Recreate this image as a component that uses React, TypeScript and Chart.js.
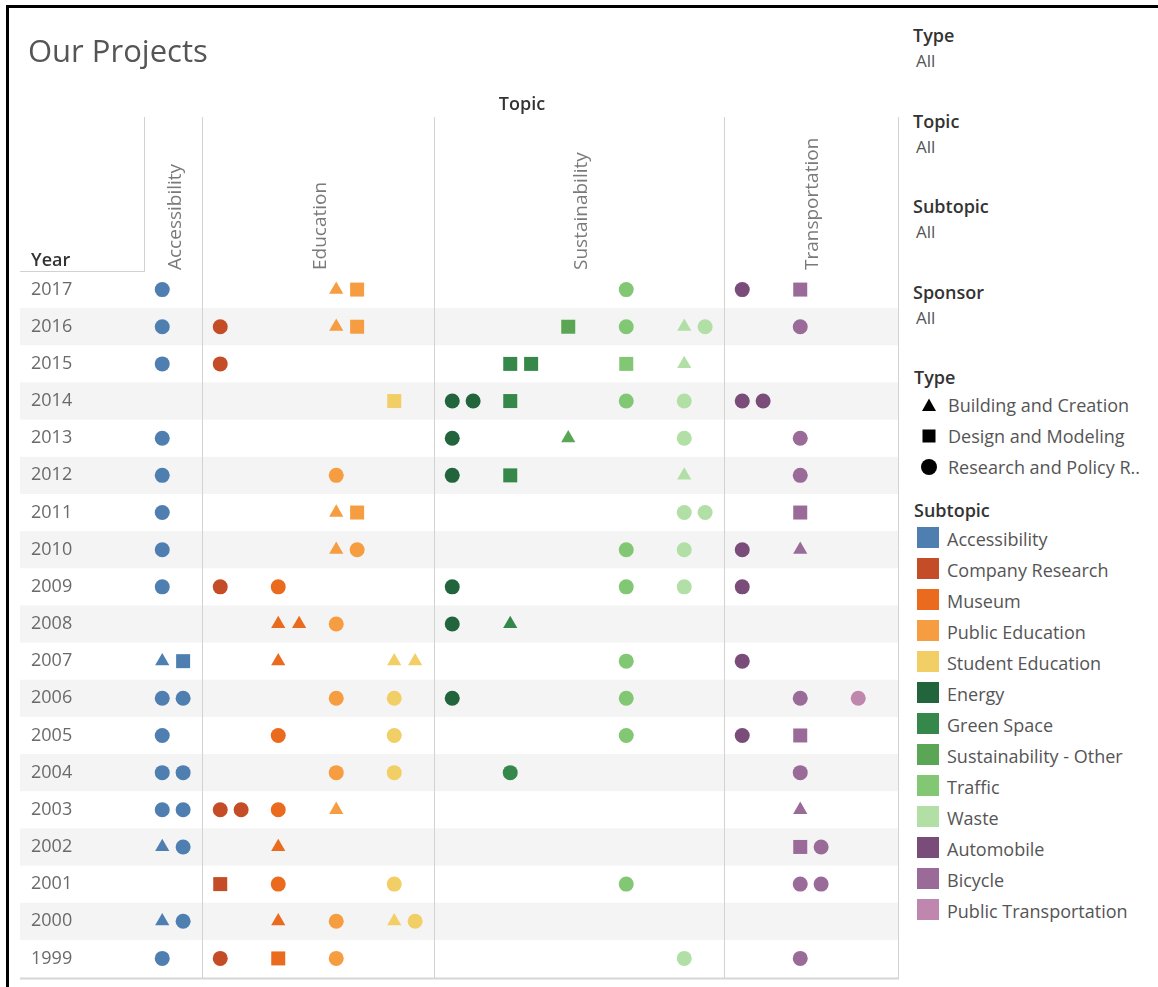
import React, { useEffect, useRef } from 'react';
import { Chart, registerables } from 'chart.js';

Chart.register(...registerables);

const FONT = '"Open Sans", "Noto Sans", sans-serif';

// ---------- data ----------
const years = ['2017', '2016', '2015', '2014', '2013', '2012', '2011', '2010', '2009', '2008', '2007', '2006', '2005', '2004', '2003', '2002', '2001', '2000', '1999'];

const topics = ['Accessibility', 'Education', 'Sustainability', 'Transportation'];
const topicSubtopicCounts = [1, 4, 5, 3];

const subtopics = ['Accessibility', 'Company Research', 'Museum', 'Public Education', 'Student Education', 'Energy', 'Green Space', 'Sustainability - Other', 'Traffic', 'Waste', 'Automobile', 'Bicycle', 'Public Transportation'];
const subtopicColors = ['#4F7FB1', '#C44C26', '#EA6A1E', '#F69D42', '#F2CF66', '#22643B', '#36884A', '#5AA655', '#82C874', '#B2DFA6', '#7A4C79', '#9A6A98', '#C087AE'];

const typeCodes = ['B', 'D', 'R'];
const typeNames = ['Building and Creation', 'Design and Modeling', 'Research and Policy R..'];
const typeShapes = ['triangle', 'rect', 'circle'];

const filterNames = ['Type', 'Topic', 'Subtopic', 'Sponsor'];
const filterValues = ['All', 'All', 'All', 'All'];

// [year, types of marks in that cell, in order: B = building, D = design, R = research]
const accessibilityMarks = [['2017', 'R'], ['2016', 'R'], ['2015', 'R'], ['2013', 'R'], ['2012', 'R'], ['2011', 'R'], ['2010', 'R'], ['2009', 'R'], ['2007', 'BD'], ['2006', 'RR'], ['2005', 'R'], ['2004', 'RR'], ['2003', 'RR'], ['2002', 'BR'], ['2000', 'BR'], ['1999', 'R']];
const companyResearchMarks = [['2016', 'R'], ['2015', 'R'], ['2009', 'R'], ['2003', 'RR'], ['2001', 'D'], ['1999', 'R']];
const museumMarks = [['2009', 'R'], ['2008', 'BB'], ['2007', 'B'], ['2005', 'R'], ['2003', 'R'], ['2002', 'B'], ['2001', 'R'], ['2000', 'B'], ['1999', 'D']];
const publicEducationMarks = [['2017', 'BD'], ['2016', 'BD'], ['2012', 'R'], ['2011', 'BD'], ['2010', 'BR'], ['2008', 'R'], ['2006', 'R'], ['2004', 'R'], ['2003', 'B'], ['2000', 'R'], ['1999', 'R']];
const studentEducationMarks = [['2014', 'D'], ['2007', 'BB'], ['2006', 'R'], ['2005', 'R'], ['2004', 'R'], ['2001', 'R'], ['2000', 'BR']];
const energyMarks = [['2014', 'RR'], ['2013', 'R'], ['2012', 'R'], ['2009', 'R'], ['2008', 'R'], ['2006', 'R']];
const greenSpaceMarks = [['2015', 'DD'], ['2014', 'D'], ['2012', 'D'], ['2008', 'B'], ['2004', 'R']];
const sustainabilityOtherMarks = [['2016', 'D'], ['2013', 'B']];
const trafficMarks = [['2017', 'R'], ['2016', 'R'], ['2015', 'D'], ['2014', 'R'], ['2010', 'R'], ['2009', 'R'], ['2007', 'R'], ['2006', 'R'], ['2005', 'R'], ['2001', 'R']];
const wasteMarks = [['2016', 'BR'], ['2015', 'B'], ['2014', 'R'], ['2013', 'R'], ['2012', 'B'], ['2011', 'RR'], ['2010', 'R'], ['2009', 'R'], ['1999', 'R']];
const automobileMarks = [['2017', 'R'], ['2014', 'RR'], ['2010', 'R'], ['2009', 'R'], ['2007', 'R'], ['2005', 'R']];
const bicycleMarks = [['2017', 'D'], ['2016', 'R'], ['2013', 'R'], ['2012', 'R'], ['2011', 'D'], ['2010', 'B'], ['2006', 'R'], ['2005', 'D'], ['2004', 'R'], ['2003', 'B'], ['2002', 'DR'], ['2001', 'RR'], ['1999', 'R']];
const publicTransportationMarks = [['2006', 'R']];

const marksBySubtopic = [accessibilityMarks, companyResearchMarks, museumMarks, publicEducationMarks, studentEducationMarks, energyMarks, greenSpaceMarks, sustainabilityOtherMarks, trafficMarks, wasteMarks, automobileMarks, bicycleMarks, publicTransportationMarks];

// ---------- layout constants ----------
const CELL_OFFSETS = [0.28, 0.64];
const SHAPE_RADIUS: Record<string, number> = { triangle: 8.2, rect: 9.9, circle: 7.5 };

const gridPlugin = {
  id: 'tableauGrid',
  beforeDraw(chart: any) {
    const { ctx } = chart;
    const x = chart.scales.x;
    const y = chart.scales.y;
    const n = years.length;
    const band = (y.bottom - y.top) / n;
    const rightEdge = x.right - 2;
    const headerTop = 117;
    ctx.save();
    // alternating row bands
    ctx.fillStyle = '#f4f4f4';
    years.forEach((_, i) => {
      if (i % 2 === 1) {
        const c = y.getPixelForValue(i);
        ctx.fillRect(20, c - band / 2, rightEdge - 20, band);
      }
    });
    // vertical separators
    ctx.strokeStyle = '#d2d2d2';
    ctx.lineWidth = 1;
    let acc = 0;
    const bounds: number[] = [0];
    topicSubtopicCounts.forEach((c) => {
      acc += c;
      bounds.push(acc);
    });
    bounds.forEach((b, i) => {
      let px = Math.round(x.getPixelForValue(b)) - 1.5;
      if (i === bounds.length - 1) px = rightEdge + 0.5;
      ctx.beginPath();
      ctx.moveTo(px, headerTop);
      ctx.lineTo(px, i === 0 ? y.top : y.bottom + 1);
      ctx.stroke();
    });
    // year header underline
    ctx.beginPath();
    ctx.moveTo(20, y.top + 0.5);
    ctx.lineTo(x.left - 1, y.top + 0.5);
    ctx.stroke();
    // bottom line
    ctx.strokeStyle = '#d6d6d6';
    ctx.lineWidth = 2;
    ctx.beginPath();
    ctx.moveTo(20, y.bottom + 1.5);
    ctx.lineTo(rightEdge + 1, y.bottom + 1.5);
    ctx.stroke();
    // rotated topic headers
    ctx.fillStyle = '#7a7a7a';
    ctx.font = `19px ${FONT}`;
    ctx.textAlign = 'left';
    ctx.textBaseline = 'middle';
    topics.forEach((t, i) => {
      const left = x.getPixelForValue(bounds[i]);
      const right = i === topics.length - 1 ? rightEdge : x.getPixelForValue(bounds[i + 1]);
      const cx = (left + right) / 2 + 1;
      ctx.save();
      ctx.translate(cx, y.top - 1);
      ctx.rotate(-Math.PI / 2);
      ctx.fillText(t, 0, 0);
      ctx.restore();
    });
    ctx.restore();
  },
};

function buildDatasets() {
  return subtopics.map((name, s) => {
    const pts: any[] = [];
    const styles: string[] = [];
    const radii: number[] = [];
    marksBySubtopic[s].forEach(([yr, codes]) => {
      codes.split('').forEach((code, k) => {
        const shape = typeShapes[typeCodes.indexOf(code)];
        pts.push({ x: s + CELL_OFFSETS[k], y: yr });
        styles.push(shape);
        radii.push(SHAPE_RADIUS[shape]);
      });
    });
    return {
      label: name,
      data: pts,
      pointStyle: styles,
      pointRadius: radii,
      pointHoverRadius: radii,
      backgroundColor: subtopicColors[s],
      borderColor: subtopicColors[s],
      pointBorderWidth: 0,
      borderWidth: 0,
    };
  });
}

function ShapeIcon({ shape }: { shape: string }) {
  if (shape === 'triangle') {
    return (
      <svg width="16" height="16" viewBox="0 0 16 16">
        <polygon points="8,1.5 15,14 1,14" fill="#000" />
      </svg>
    );
  }
  if (shape === 'rect') {
    return (
      <svg width="16" height="16" viewBox="0 0 16 16">
        <rect x="1.5" y="1.5" width="13" height="13" fill="#000" />
      </svg>
    );
  }
  return (
    <svg width="18" height="18" viewBox="0 0 18 18">
      <circle cx="9" cy="9" r="8" fill="#000" />
    </svg>
  );
}

export default function App() {
  const canvasRef = useRef<HTMLCanvasElement | null>(null);

  useEffect(() => {
    if (!canvasRef.current) return;
    const chart = new Chart(canvasRef.current, {
      type: 'scatter',
      data: { labels: years, datasets: buildDatasets() as any },
      options: {
        animation: false,
        responsive: false,
        maintainAspectRatio: false,
        layout: { autoPadding: false, padding: { left: 31, top: 271, right: 0, bottom: 10 } },
        plugins: { legend: { display: false }, tooltip: { enabled: false }, title: { display: false } },
        events: [],
        scales: {
          x: { type: 'linear', min: 0, max: subtopics.length, display: false },
          y: {
            type: 'category',
            labels: years,
            offset: true,
            position: 'left',
            grid: { display: false },
            border: { display: false },
            ticks: {
              crossAlign: 'far',
              autoSkip: false,
              padding: 0,
              color: '#6a6a6a',
              font: { family: FONT, size: 18, lineHeight: 1 },
            },
            afterFit: (scale: any) => {
              scale.width = 115;
            },
          },
        },
      } as any,
      plugins: [gridPlugin],
    });
    return () => chart.destroy();
  }, []);

  const abs = (left: number, top: number, extra: any = {}) => ({
    position: 'absolute' as const,
    left,
    top,
    lineHeight: 1,
    whiteSpace: 'nowrap' as const,
    fontFamily: FONT,
    ...extra,
  });

  return (
    <div style={{ position: 'absolute', left: 0, top: 0, width: 1158, height: 987, overflow: 'hidden', background: '#fff' }}>
      {/* frame */}
      <div style={{ position: 'absolute', left: 6, top: 5, width: 1170, height: 1000, borderTop: '3px solid #000', borderLeft: '3px solid #000' }} />
      <canvas ref={canvasRef} width={900} height={987} style={{ position: 'absolute', left: 0, top: 0, width: 900, height: 987 }} />
      <div style={abs(28, 35, { fontSize: 31, color: '#555' })}>Our Projects</div>
      <div style={abs(31, 250, { fontSize: 18, fontWeight: 600, color: '#333' })}>Year</div>
      <div style={abs(522, 94, { fontSize: 18, fontWeight: 600, color: '#333', transform: 'translateX(-50%)' })}>Topic</div>

      {filterNames.map((f, i) => (
        <React.Fragment key={f}>
          <div style={abs(913, 26 + i * 85.5, { fontSize: 18, fontWeight: 600, color: '#333' })}>{f}</div>
          <div style={abs(916, 52 + i * 85.5, { fontSize: 17, color: '#555' })}>{filterValues[i]}</div>
        </React.Fragment>
      ))}

      <div style={abs(914, 368, { fontSize: 18, fontWeight: 600, color: '#333' })}>Type</div>
      {typeNames.map((t, i) => (
        <React.Fragment key={t}>
          <div style={{ position: 'absolute', left: 920, top: 405 + i * 31 - 9, width: 18, height: 18, display: 'flex', alignItems: 'center', justifyContent: 'center' }}>
            <ShapeIcon shape={typeShapes[i]} />
          </div>
          <div style={abs(948, 396 + i * 31, { fontSize: 18, color: '#555' })}>{t}</div>
        </React.Fragment>
      ))}

      <div style={abs(914, 501, { fontSize: 18, fontWeight: 600, color: '#333' })}>Subtopic</div>
      {subtopics.map((s, i) => (
        <React.Fragment key={s}>
          <div style={{ position: 'absolute', left: 917, top: 527 + i * 31, width: 22, height: 21, background: subtopicColors[i] }} />
          <div style={abs(947, 530 + i * 31, { fontSize: 18, color: '#555' })}>{s}</div>
        </React.Fragment>
      ))}
    </div>
  );
}
